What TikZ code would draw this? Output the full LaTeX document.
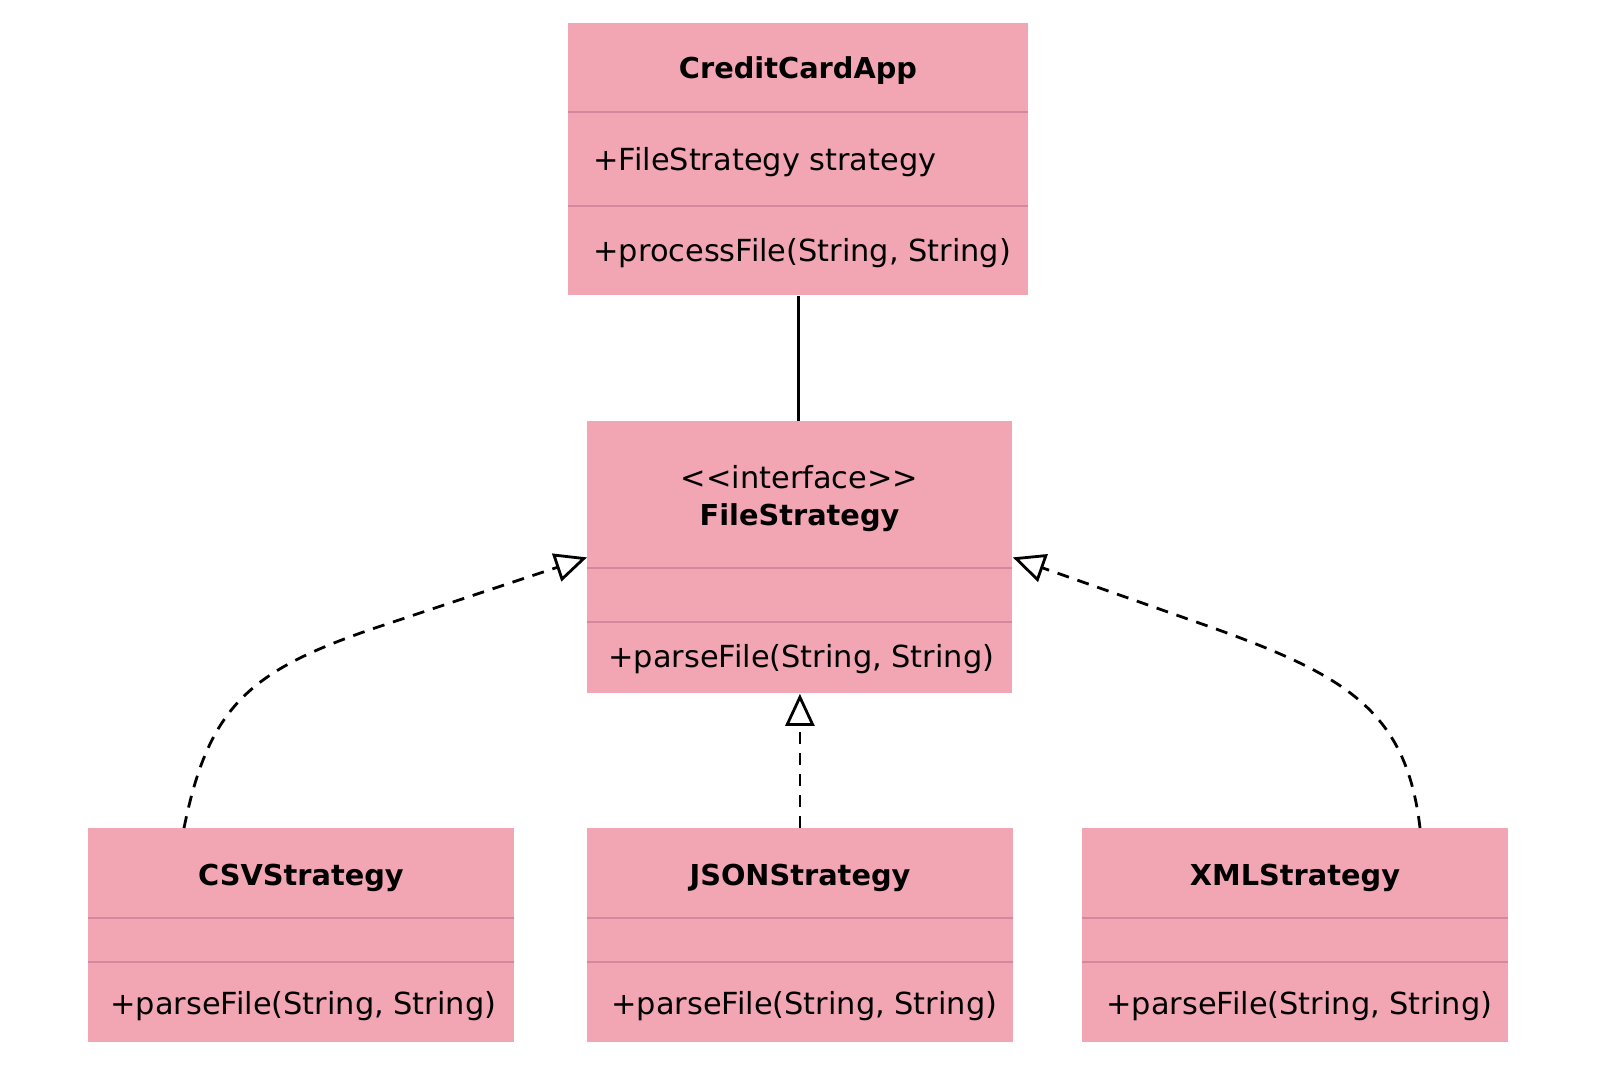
\documentclass[tikz,border=0pt]{standalone}
\usepackage{fontspec}
\setmainfont{DejaVu Sans}
\usetikzlibrary{arrows.meta,calc}
\definecolor{boxpink}{HTML}{F2A6B4}
\definecolor{divpink}{HTML}{D6869F}
\tikzset{
  classbox/.style={fill=boxpink, draw=none, inner sep=0pt, anchor=north west},
  divider/.style={draw=divpink, line width=1pt},
  titletext/.style={font=\fontsize{14.4pt}{17pt}\selectfont\bfseries, inner sep=0pt, text height=10.5pt, text depth=0pt, anchor=center},
  membertext/.style={font=\fontsize{15.2pt}{18pt}\selectfont, inner sep=0pt, text height=11pt, text depth=0pt, anchor=west},
  stereotext/.style={font=\fontsize{15.2pt}{18pt}\selectfont, inner sep=0pt, text height=11pt, text depth=0pt, anchor=center},
  assoc/.style={draw=black, line width=1.4pt},
  realize/.style={draw=black, line width=1.4pt, dash pattern=on 6pt off 4.5pt,
    -{Triangle[open, length=16pt, width=14.5pt, line width=1.4pt]}},
}
\begin{document}
\begin{tikzpicture}[x=0.5pt, y=-0.5pt]
\useasboundingbox (0,0) rectangle (1600,1078);
\fill[white] (0,0) rectangle (1600,1078);

% CreditCardApp
\node[classbox, minimum width=230pt, minimum height=136pt] (cca) at (568,23) {};
\draw[divider] (568,112) -- (1028,112);
\draw[divider] (568,206) -- (1028,206);
\node[titletext] (ccatitle) at (798,68) {CreditCardApp};
\node[membertext] (ccaattr) at (593,159) {+FileStrategy strategy};
\node[membertext] (ccameth) at (593,250) {+processFile(String, String)};

% FileStrategy
\node[classbox, minimum width=212.5pt, minimum height=136pt] (fs) at (587,421) {};
\draw[divider] (587,568) -- (1012,568);
\draw[divider] (587,622) -- (1012,622);
\node[stereotext] (fsstereo) at (799.5,477) {<{}<interface>{}>};
\node[titletext] (fstitle) at (799.5,515) {FileStrategy};
\node[membertext] (fsmeth) at (608,656) {+parseFile(String, String)};

% CSVStrategy
\node[classbox, minimum width=213pt, minimum height=107pt] (csv) at (88,828) {};
\draw[divider] (88,918) -- (514,918);
\draw[divider] (88,962) -- (514,962);
\node[titletext] (csvtitle) at (301,875) {CSVStrategy};
\node[membertext] (csvmeth) at (110,1003) {+parseFile(String, String)};

% JSONStrategy
\node[classbox, minimum width=213pt, minimum height=107pt] (json) at (587,828) {};
\draw[divider] (587,918) -- (1013,918);
\draw[divider] (587,962) -- (1013,962);
\node[titletext] (jsontitle) at (800,875) {JSONStrategy};
\node[membertext] (jsonmeth) at (611,1003) {+parseFile(String, String)};

% XMLStrategy
\node[classbox, minimum width=213pt, minimum height=107pt] (xml) at (1082,828) {};
\draw[divider] (1082,918) -- (1508,918);
\draw[divider] (1082,962) -- (1508,962);
\node[titletext] (xmltitle) at (1295,875) {XMLStrategy};
\node[membertext] (xmlmeth) at (1106,1003) {+parseFile(String, String)};

% connectors
\draw[assoc] (cca.south) -- (cca.south |- fs.north);
\coordinate (csvstart) at ($(csv.north west)+(96,0)$);
\coordinate (xmlstart) at ($(xml.north west)+(338,0)$);
\coordinate (csvbend) at (380,626.3);
\coordinate (xmlbend) at (1200,623.3);
\draw[realize] (csvstart) .. controls (209,705) and (250,670) .. (csvbend) -- (fs.west);
\draw[realize] (xmlstart) .. controls (1406,708) and (1343,673.5) .. (xmlbend) -- (fs.east);
\draw[realize] (json.north -| fs.south) -- (fs.south);
\end{tikzpicture}
\end{document}
